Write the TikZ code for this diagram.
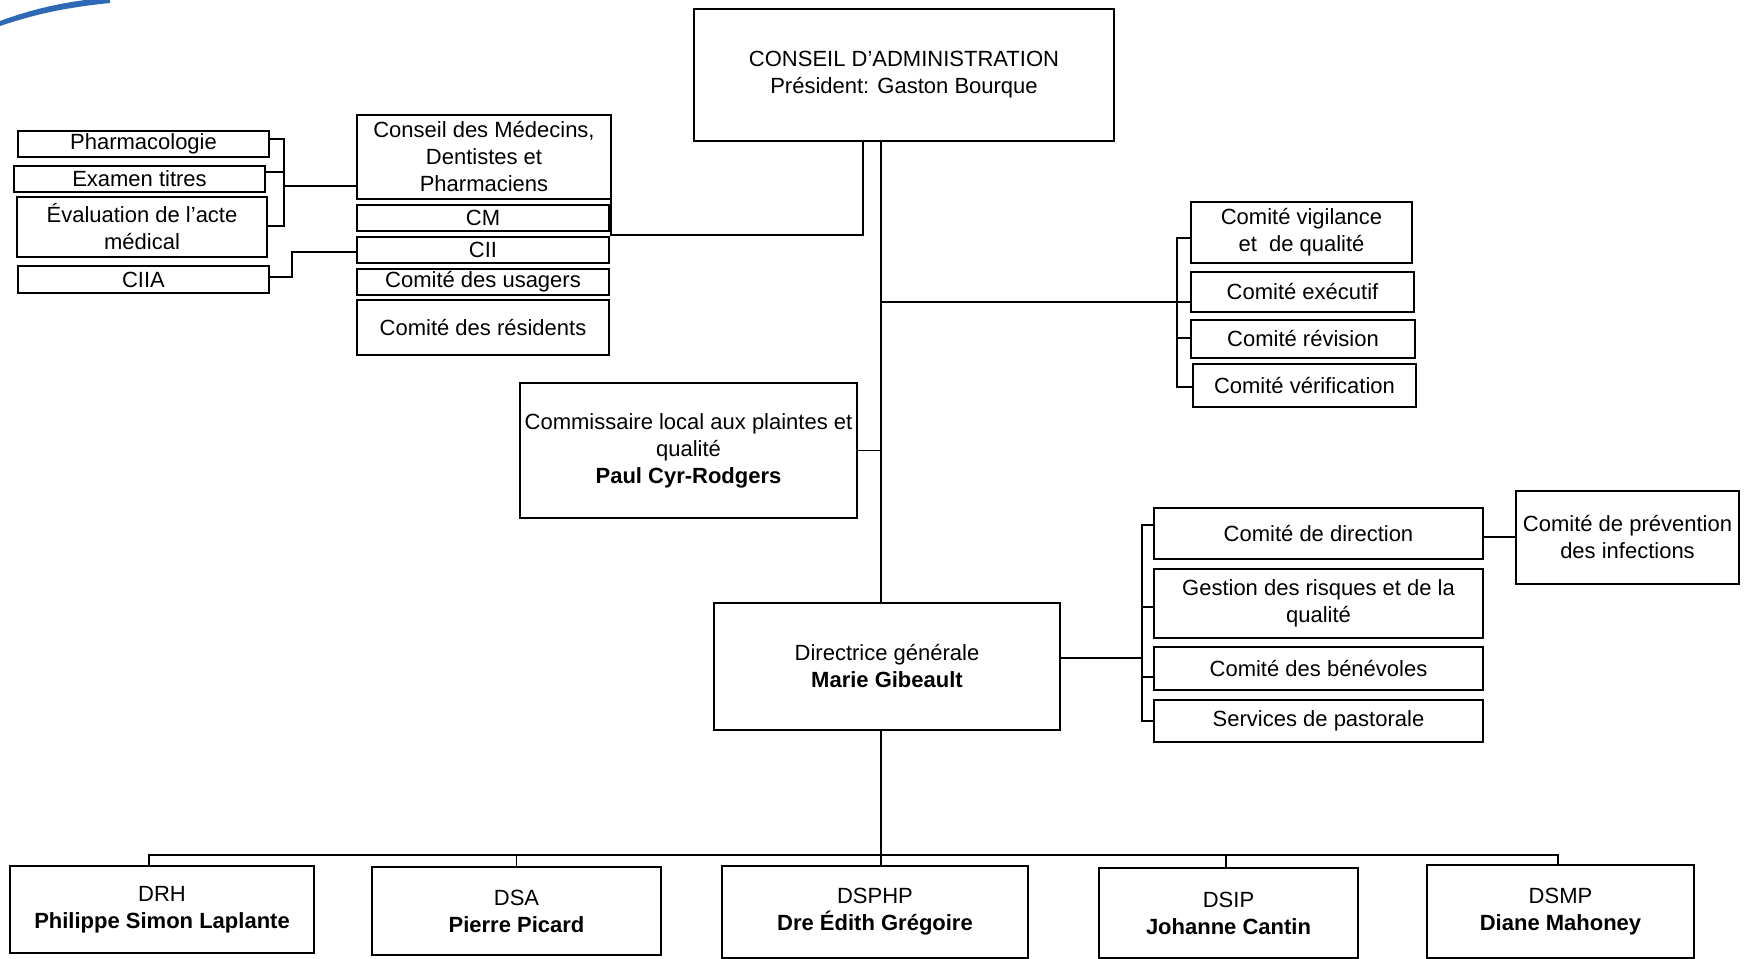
\documentclass[tikz,border=0pt]{standalone}
\usepackage{fontspec}
\setmainfont{Liberation Sans}
\definecolor{swoosh}{RGB}{45,105,180}
\tikzset{
  box/.style={draw, line width=0.8pt, rectangle, inner sep=0pt, outer sep=0pt, align=center,
    font=\fontsize{11}{13.5}\selectfont},
  con/.style={line width=0.7pt},
}
\newcommand{\bx}[6]{\node[box, minimum width={0.5pt*(#4-#2)}, minimum height={0.5pt*(#5-#3)}] (#1) at ({(#2+#4)/2},{(#3+#5)/2}) {#6};}
\begin{document}
\begin{tikzpicture}[x=0.5pt,y=-0.5pt]
\useasboundingbox (0,0) rectangle (1747,959);
\clip (0,0) rectangle (1747,959);
% swoosh
\fill[swoosh] (0,21) .. controls (30,10) and (60,2) .. (110,-3) -- (110,3) .. controls (60,8) and (30,16) .. (0,26) -- cycle;
% boxes
\bx{ca}{694}{9}{1114}{141}{CONSEIL D’ADMINISTRATION\\Président: Gaston Bourque}
\bx{cmdp}{357}{115}{611}{199}{Conseil des Médecins,\\Dentistes et\\Pharmaciens}
\bx{cm}{357}{205}{609}{231}{CM}
\bx{cii}{357}{237}{609}{263}{CII}
\bx{usa}{357}{269}{609}{295}{Comité des usagers}
\bx{res}{357}{300}{609}{355}{Comité des résidents}
\bx{pha}{18}{131}{269}{157}{Pharmacologie}
\bx{exa}{14}{166}{265}{192}{Examen titres}
\bx{eva}{17}{197}{267}{257}{Évaluation de l’acte\\médical}
\bx{ciia}{18}{266}{269}{293}{CIIA}
\bx{vig}{1191}{202}{1412}{263}{Comité vigilance\\et\ \ de qualité}
\bx{exe}{1191}{272}{1414}{312}{Comité exécutif}
\bx{rev}{1191}{320}{1415}{358}{Comité révision}
\bx{ver}{1193}{364}{1416}{407}{Comité vérification}
\bx{com}{520}{383}{857}{518}{Commissaire local aux plaintes et\\qualité\\\textbf{Paul Cyr-Rodgers}}
\bx{dg}{714}{603}{1060}{730}{Directrice générale\\\textbf{Marie Gibeault}}
\bx{dir}{1154}{508}{1483}{559}{Comité de direction}
\bx{ges}{1154}{569}{1483}{638}{Gestion des risques et de la\\qualité}
\bx{ben}{1154}{647}{1483}{690}{Comité des bénévoles}
\bx{pas}{1154}{700}{1483}{742}{Services de pastorale}
\bx{pre}{1516}{491}{1739}{584}{Comité de prévention\\des infections}
\bx{drh}{10}{866}{314}{953}{DRH\\\textbf{Philippe Simon Laplante}}
\bx{dsa}{372}{867}{661}{955}{DSA\\\textbf{Pierre Picard}}
\bx{dsp}{722}{866}{1028}{958}{DSPHP\\\textbf{Dre Édith Grégoire}}
\bx{dsi}{1099}{868}{1358}{958}{DSIP\\\textbf{Johanne Cantin}}
\bx{dsm}{1427}{865}{1694}{958}{DSMP\\\textbf{Diane Mahoney}}
% connectors
\coordinate (tx) at (881,0);
\draw[con] (ca.south -| tx) -- (dg.north -| tx);
\coordinate (c1) at (863,235);
\draw[con] (ca.south -| c1) -- (c1) -- (cmdp.east |- c1) -- (cmdp.south east);
% left bracket
\coordinate (lt) at (284,139);
\coordinate (lm) at (284,186);
\coordinate (le) at (284,172);
\coordinate (lbt) at (284,226);
\draw[con] (pha.east |- lt) -- (lt) -- (lbt) -- (eva.east |- lbt);
\draw[con] (exa.east |- le) -- (le);
\draw[con] (lm) -- (cmdp.west |- lm);
\coordinate (cia) at (292,277);
\coordinate (cib) at (292,252);
\draw[con] (ciia.east |- cia) -- (cia) -- (cib) -- (cii.west |- cib);
% upper right bracket
\coordinate (rb) at (1177,302);
\coordinate (rt) at (1177,238);
\coordinate (rr) at (1177,338);
\coordinate (rbt) at (1177,387);
\draw[con] (rb -| tx) -- (rb) -- (exe.west |- rb);
\draw[con] (vig.west |- rt) -- (rt) -- (rbt) -- (ver.west |- rbt);
\draw[con] (rr) -- (rev.west |- rr);
% commissaire
\draw[con] (com.east) -- (com.east -| tx);
% lower right bracket
\coordinate (q) at (1142,658);
\coordinate (qt) at (1142,525);
\coordinate (qg) at (1142,607);
\coordinate (qn) at (1142,677);
\coordinate (qb) at (1142,721);
\draw[con] (dg.east |- q) -- (q);
\draw[con] (dir.west |- qt) -- (qt) -- (qb) -- (pas.west |- qb);
\draw[con] (qg) -- (ges.west |- qg);
\draw[con] (qn) -- (ben.west |- qn);
\coordinate (pp) at (1500,537);
\draw[con] (dir.east |- pp) -- (pre.west |- pp);
% bottom bus
\coordinate (bl) at (149,855);
\coordinate (br) at (1558,855);
\coordinate (bi) at (1226,855);
\draw[con] (drh.north -| bl) -- (bl) -- (br) -- (dsm.north -| br);
\draw[con] (dg.south -| tx) -- (dsp.north -| tx);
\draw[con] (dsa.north) -- (dsa.north |- bl);
\draw[con] (dsi.north -| bi) -- (bi);
\end{tikzpicture}
\end{document}
